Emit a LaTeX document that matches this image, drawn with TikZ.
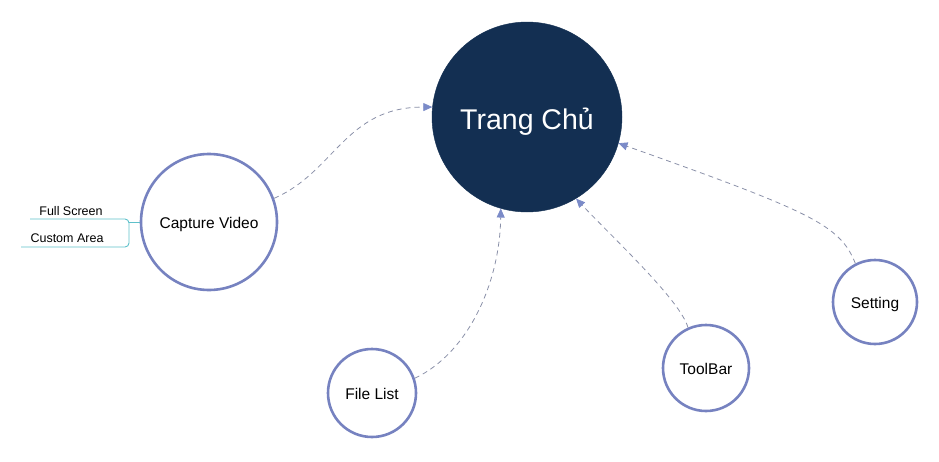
\documentclass[tikz,border=0pt]{standalone}
\usepackage{fontspec}
\setmainfont{Liberation Sans}
\usetikzlibrary{arrows.meta}
\definecolor{navy}{HTML}{132F52}
\definecolor{ring}{HTML}{7682C0}
\definecolor{dash}{HTML}{8A90A8}
\definecolor{tip}{HTML}{7B8BC8}
\definecolor{teal}{HTML}{5EC0CA}
\tikzset{
  main/.style={circle, fill=navy, draw=navy, minimum size=190pt, inner sep=0pt, text=white, text height=30pt, text depth=4.4pt, font=\fontsize{28.5}{30}\selectfont},
  sub/.style={circle, draw=ring, line width=2.6pt, fill=white, inner sep=0pt, text height=15pt, text depth=3pt, font=\fontsize{15.5}{17}\selectfont},
  link/.style={draw=dash, line width=0.8pt, dash pattern=on 5pt off 4pt, -{Triangle[length=9pt,width=8pt,fill=tip,color=tip,sep=0pt]}},
  leaf/.style={font=\fontsize{12.5}{14}\selectfont, inner sep=1pt},
  bracket/.style={draw=teal, line width=0.9pt, rounded corners=4pt}
}
\begin{document}
\begin{tikzpicture}[x=1pt,y=-1pt]
\useasboundingbox (0,0) rectangle (939,461);
\node[main] (home) at (527,117) {Trang Chủ};
\node[sub, minimum size=136pt] (cap) at (209,222) {Capture Video};
\node[sub, minimum size=88pt] (file) at (372,393) {File List};
\node[sub, minimum size=86pt] (tool) at (706,368) {ToolBar};
\node[sub, minimum size=84pt] (set) at (875,302) {Setting};

\node[leaf] (full) at (71,211.5) {Full Screen};
\node[leaf] (cust) at (67,238.5) {Custom Area};
\coordinate (fa) at (30,219);
\coordinate (ca) at (21,247);
\coordinate (jn) at (129,222);

\draw[bracket] (fa) -- (129,219) -- (129,247) -- (ca);
\draw[teal, line width=0.9pt] (jn) -- (cap.west);

\draw[link] (cap.20) .. controls (335,172) and (345,107) .. (home.174);
\draw[link] (file.19) .. controls (470,352) and (500,280) .. (home.-106);
\draw[link] (tool.114) .. controls (680,300) and (615,240) .. (home.-59);
\draw[link] (set.117) .. controls (840,225) and (812,212) .. (home.-16);
\end{tikzpicture}
\end{document}
